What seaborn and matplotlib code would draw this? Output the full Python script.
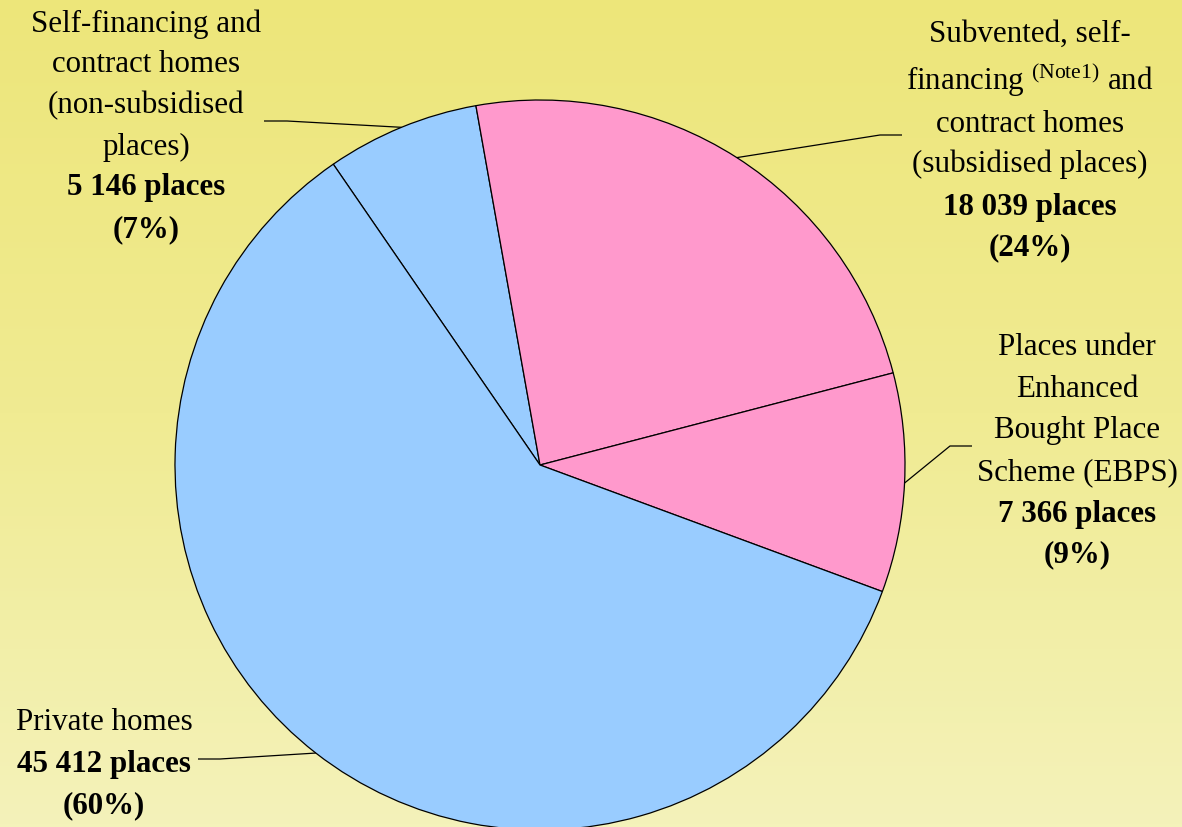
import numpy as np
import matplotlib
matplotlib.use("Agg")
import matplotlib.pyplot as plt
import seaborn as sns
from matplotlib.colors import LinearSegmentedColormap

sns.set_theme(style="white")
plt.rcParams["font.family"] = ["Liberation Serif", "DejaVu Serif"]
plt.rcParams["mathtext.fontset"] = "custom"
plt.rcParams["mathtext.rm"] = "Liberation Serif"
plt.rcParams["mathtext.bf"] = "Liberation Serif:bold"

# ---- data ----
categories = [
    "Self-financing and contract homes (non-subsidised places)",
    "Subvented, self-financing and contract homes (subsidised places)",
    "Places under Enhanced Bought Place Scheme (EBPS)",
    "Private homes",
]
places = [5146, 18039, 7366, 45412]
desc_lines = [
    ["Self-financing and", "contract homes", "(non-subsidised", "places)"],
    ["Subvented, self-", r"financing $^{\mathrm{(Note1)}}$ and", "contract homes",
     "(subsidised places)"],
    ["Places under", "Enhanced", "Bought Place", "Scheme (EBPS)"],
    ["Private homes"],
]
place_labels = ["5 146 places", "18 039 places", "7 366 places", "45 412 places"]
percent_labels = ["(7%)", "(24%)", "(9%)", "(60%)"]
colors = ["#99CCFF", "#FF99CC", "#FF99CC", "#99CCFF"]

# ---- layout (pixel geometry) ----
W, H = 1182, 828
CX, CY, R = 540, 466, 365


def X(px):
    return (px - CX) / R


def Y(py):
    return (CY - py) / R


fig = plt.figure(figsize=(W / 100, H / 100), dpi=100)
ax = fig.add_axes([0, 0, 1, 1])

xlim = (X(0), X(W))
ylim = (Y(H), Y(0))

# background gradient
grad_cmap = LinearSegmentedColormap.from_list(
    "bg", ["#EDE67A", "#F0EB92", "#F4F2BA"])
grad = np.linspace(0, 1, 256).reshape(-1, 1)
ax.imshow(grad, cmap=grad_cmap, extent=[xlim[0], xlim[1], ylim[0], ylim[1]],
          aspect="auto", origin="upper", zorder=0)

wedges, _ = ax.pie(places, colors=colors, startangle=124.5, counterclock=False,
                   radius=1.0, center=(0, 0),
                   wedgeprops=dict(edgecolor="black", linewidth=0.9, zorder=2))

ax.set_xlim(*xlim)
ax.set_ylim(*ylim)
ax.set_aspect("auto")
ax.axis("off")

FS = 22.3
# text positions: center x and baselines (px)
label_x = [146, 1030, 1077, 104]
baselines = [
    [32, 72, 113, 155, 195, 237],
    [42, 90, 132, 172, 215, 255],
    [355, 397, 438, 480, 522, 562],
    [730, 772, 813],
]
# leader line anchors at label side (px): end point, elbow point
leader = [
    [(264, 122), (287, 122)],
    [(902, 136), (880, 136)],
    [(972, 447), (950, 447)],
    [(198, 760), (220, 760)],
]

for i, w in enumerate(wedges):
    lines = desc_lines[i] + [place_labels[i], percent_labels[i]]
    nd = len(desc_lines[i])
    for j, (txt, by) in enumerate(zip(lines, baselines[i])):
        ax.text(X(label_x[i]), Y(by), txt, ha="center", va="baseline",
                fontsize=FS, fontweight="bold" if j >= nd else "normal",
                color="black", zorder=5)
    ang = np.deg2rad((w.theta1 + w.theta2) / 2)
    px, py = np.cos(ang), np.sin(ang)
    (ex, ey), (kx, ky) = leader[i]
    ax.plot([X(ex), X(kx), px], [Y(ey), Y(ky), py], color="black",
            linewidth=0.9, zorder=4, solid_capstyle="butt")

fig.savefig("out.png", dpi=100)
